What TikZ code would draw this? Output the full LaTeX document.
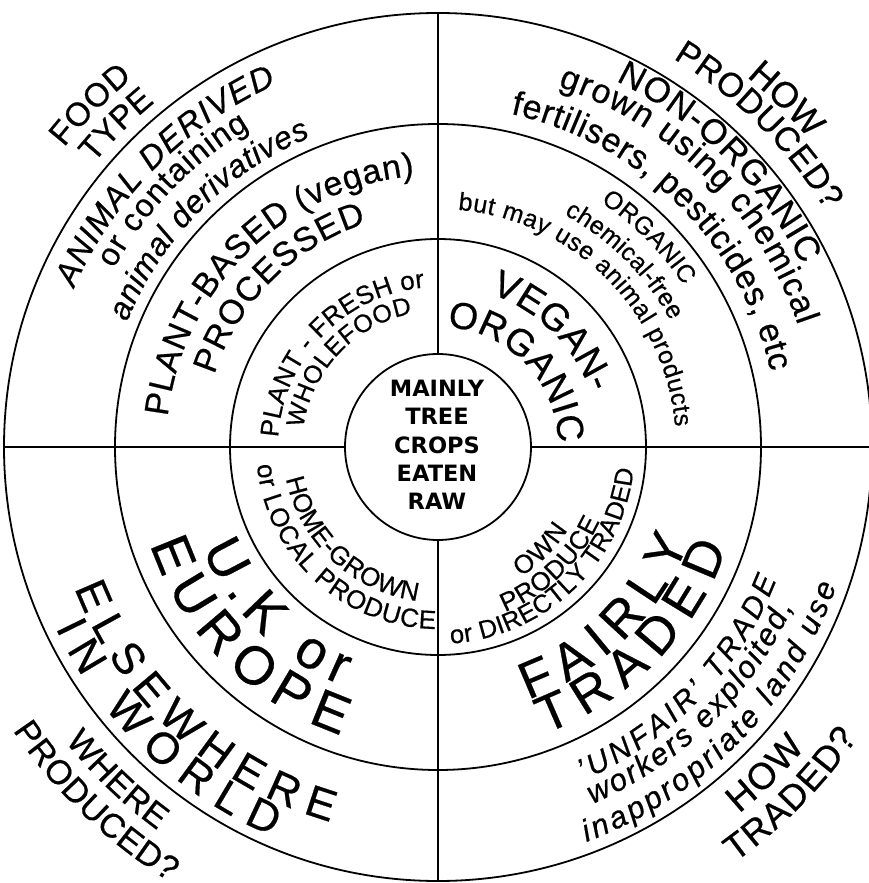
\documentclass[tikz,border=0pt]{standalone}
\usepackage{fontspec}
\setmainfont{Liberation Sans}[FakeBold=0.5]
\newfontfamily\hubfont{DejaVu Sans}
\usetikzlibrary{decorations.text}

\newcommand\fs[1]{\fontsize{#1}{#1}\selectfont}
% radius, start angle, end angle, font, text
\newcommand\ringtext[5]{%
  \path[decorate,decoration={text along path,text align={fit to path},
    text={|#4|#5}}] (#2:#1pt) arc[start angle=#2,end angle=#3,radius=#1pt];}

\tikzset{
  ring/.style={line width=1.8pt},
  hub/.style={font=\hubfont\bfseries\fontsize{22.5}{28.3}\selectfont,align=center}
}

\begin{document}
\begin{tikzpicture}[x=1pt,y=1pt]
  \useasboundingbox (-438,-436) rectangle (431,447);
  \foreach \r in {93,208,323,434}
    \draw[ring] (0,0) circle[radius=\r];
  \foreach \a in {0,90,180,270}
    \draw[ring] (\a:93) -- (\a:434);
  \node[hub] (hub) at (-1,2) {MAINLY\\TREE\\CROPS\\EATEN\\RAW};
  % food type
  \ringtext{479}{141.3}{129.6}{\fs{33}}{FOOD}
  \ringtext{446}{140.5}{129.4}{\fs{33}}{TYPE}
  \ringtext{397}{156.4}{114.0}{\fs{33}\itshape}{ANIMAL DERIVED}
  \ringtext{370}{151.2}{120.6}{\fs{32}}{or containing}
  \ringtext{335}{158.1}{112.4}{\fs{32}\itshape}{animal derivatives}
  \ringtext{272}{173.6}{95.0}{\fs{34}}{PLANT-BASED (vegan)}
  \ringtext{235}{162.1}{107.7}{\fs{34}}{PROCESSED}
  \ringtext{160}{176.6}{94.8}{\fs{26}}{PLANT - FRESH or}
  \ringtext{136}{172.0}{100.8}{\fs{25}}{WHOLEFOOD}
  % how produced
  \ringtext{482}{50.2}{39.8}{\fs{36}}{HOW}
  \ringtext{454}{58.8}{31.4}{\fs{34}}{PRODUCED?}
  \ringtext{407}{64.1}{26.6}{\fs{35}}{NON-ORGANIC}
  \ringtext{380}{71.6}{18.7}{\fs{34}}{grown using chemical}
  \ringtext{341}{77.7}{12.8}{\fs{34}}{fertilisers, pesticides, etc}
  \ringtext{294}{56.4}{33.3}{\fs{25}}{ORGANIC}
  \ringtext{264.5}{61.5}{28.5}{\fs{25}}{chemical-free}
  \ringtext{238}{85.2}{4.9}{\fs{25}}{but may use animal products}
  \ringtext{162}{71.2}{19.6}{\fs{38}}{VEGAN-}
  \ringtext{120.4}{85.8}{1.8}{\fs{37.5}}{ORGANIC}
  % how traded
  \ringtext{154}{-57.4}{-32.6}{\fs{26}}{OWN}
  \ringtext{178}{-67.9}{-24.7}{\fs{26}}{PRODUCE}
  \ringtext{197}{-86.3}{-6.5}{\fs{25.5}}{or DIRECTLY TRADED}
  \ringtext{268}{-70.4}{-20.9}{\fs{52}}{FAIRLY}
  \ringtext{306}{-69.5}{-19.2}{\fs{52}}{TRADED}
  \ringtext{363.7}{-66.5}{-21.4}{\fs{30}\itshape}{'UNFAIR' TRADE}
  \ringtext{389}{-66.6}{-24.2}{\fs{31}\itshape}{workers exploited,}
  \ringtext{422}{-69.4}{-19.2}{\fs{31}\itshape}{inappropriate land use}
  \ringtext{474.4}{-50.6}{-39.3}{\fs{37}}{HOW}
  \ringtext{510.6}{-54.4}{-34.7}{\fs{36}}{TRADED?}
  % where produced
  \ringtext{155.3}{191.8}{262.3}{\fs{26}}{HOME-GROWN}
  \ringtext{182}{185.7}{269.2}{\fs{26}}{or LOCAL PRODUCE}
  \ringtext{257}{203.5}{247.9}{\fs{54}}{U.K or}
  \ringtext{304}{198.7}{251.4}{\fs{54}}{EUROPE}
  \ringtext{390}{201.2}{254}{\fs{44}}{ELSEWHERE}
  \ringtext{423}{205.3}{246.9}{\fs{44}}{IN WORLD}
  \ringtext{475}{218.3}{233.8}{\fs{34}}{WHERE}
  \ringtext{511}{213.7}{238.3}{\fs{34}}{PRODUCED?}
\end{tikzpicture}
\end{document}
